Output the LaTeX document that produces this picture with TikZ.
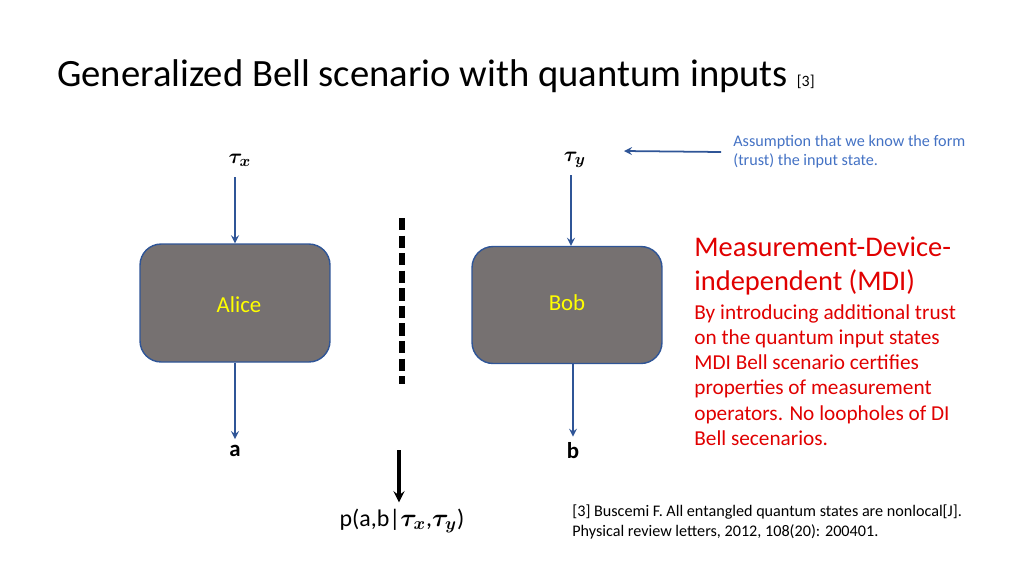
\documentclass[tikz,border=0pt]{standalone}
\usepackage{fontspec}
\setmainfont{Carlito}
\usepackage{amsmath,bm}
\definecolor{boxgray}{HTML}{767171}
\definecolor{boxedge}{HTML}{2F5597}
\definecolor{arr}{HTML}{2F5597}
\definecolor{note}{HTML}{4472C4}
\definecolor{mdi}{HTML}{E00000}
\definecolor{yel}{HTML}{FFFF00}
\begin{document}
\begin{tikzpicture}[x=0.02cm,y=-0.02cm,
  party/.style={draw=boxedge,fill=boxgray,rounded corners=12pt,line width=0.8pt},
  flow/.style={-stealth,draw=arr,line width=1pt},
  lbl/.style={font=\fontsize{13}{16}\selectfont\bfseries},
  redl/.style={anchor=base west,inner sep=0pt,text=mdi,font=\fontsize{16.2}{19}\selectfont},
  reds/.style={anchor=base west,inner sep=0pt,text=mdi,font=\fontsize{12.1}{14}\selectfont}]
\useasboundingbox (0,0) rectangle (1024,576);
\node[anchor=base west,inner sep=0pt,font=\fontsize{22}{26}\selectfont] (title) at (57,86) {Generalized Bell scenario with quantum inputs {\fontsize{9}{11}\selectfont[3]}};
\node[lbl] (tx) at (240,160) {$\bm{\tau_x}$};
\node[lbl] (ty) at (575,160) {$\bm{\tau_y}$};
\node[party,minimum width=3.8cm,minimum height=2.36cm] (alice) at (235,303) {};
\node[text=yel,font=\fontsize{13}{16}\selectfont] at (239,305) {Alice};
\node[party,minimum width=3.8cm,minimum height=2.34cm] (bob) at (567,305) {};
\node[text=yel,font=\fontsize{13}{16}\selectfont] at (567,303) {Bob};
\node[lbl] (a) at (235,451) {a};
\node[lbl] (b) at (573,451) {b};
\coordinate (tx1) at (235,177); \coordinate (ty1) at (571,175);
\draw[flow] (tx1) -- (alice.north -| tx1);
\draw[flow] (ty1) -- (bob.north -| ty1);
\draw[flow] (alice.south -| a) -- (a.north);
\draw[flow] (bob.south -| b) -- (b.north);
\coordinate (d1) at (402,218); \coordinate (d2) at (402,384);
\draw[line width=3pt,dash pattern=on 7pt off 3pt] (d1) -- (d2);
\coordinate (p1) at (399,450);
\node[font=\fontsize{13.6}{16}\selectfont] (p) at (402,521) {p(a,b|$\bm{\tau_x}$,$\bm{\tau_y}$)};
\draw[-stealth,line width=1.8pt] (p1) -- (p.north -| p1);
\node[anchor=west,align=left,text=note,font=\fontsize{9.2}{11}\selectfont,inner sep=0pt] (note) at (733,152) {Assumption that we know the form\\(trust) the input state.};
\draw[flow] (note.west) ++(-12,0) coordinate (n1) -- (624,151);
\node[redl] (m1) at (694,256) {Measurement-Device-};
\node[redl] (m2) at (694,290) {independent (MDI)};
\foreach \t [count=\i] in {By introducing additional trust,on the quantum input states,MDI Bell scenario certifies,properties of measurement,operators. No loopholes of DI,Bell secenarios.}
  \node[reds] (s\i) at (694,{294+25.2*\i}) {\t};
\node[anchor=west,align=left,font=\fontsize{9.2}{11.2}\selectfont,inner sep=0pt] (ref) at (572,522) {[3] Buscemi F. All entangled quantum states are nonlocal[J].\\Physical review letters, 2012, 108(20): 200401.};
\end{tikzpicture}
\end{document}
